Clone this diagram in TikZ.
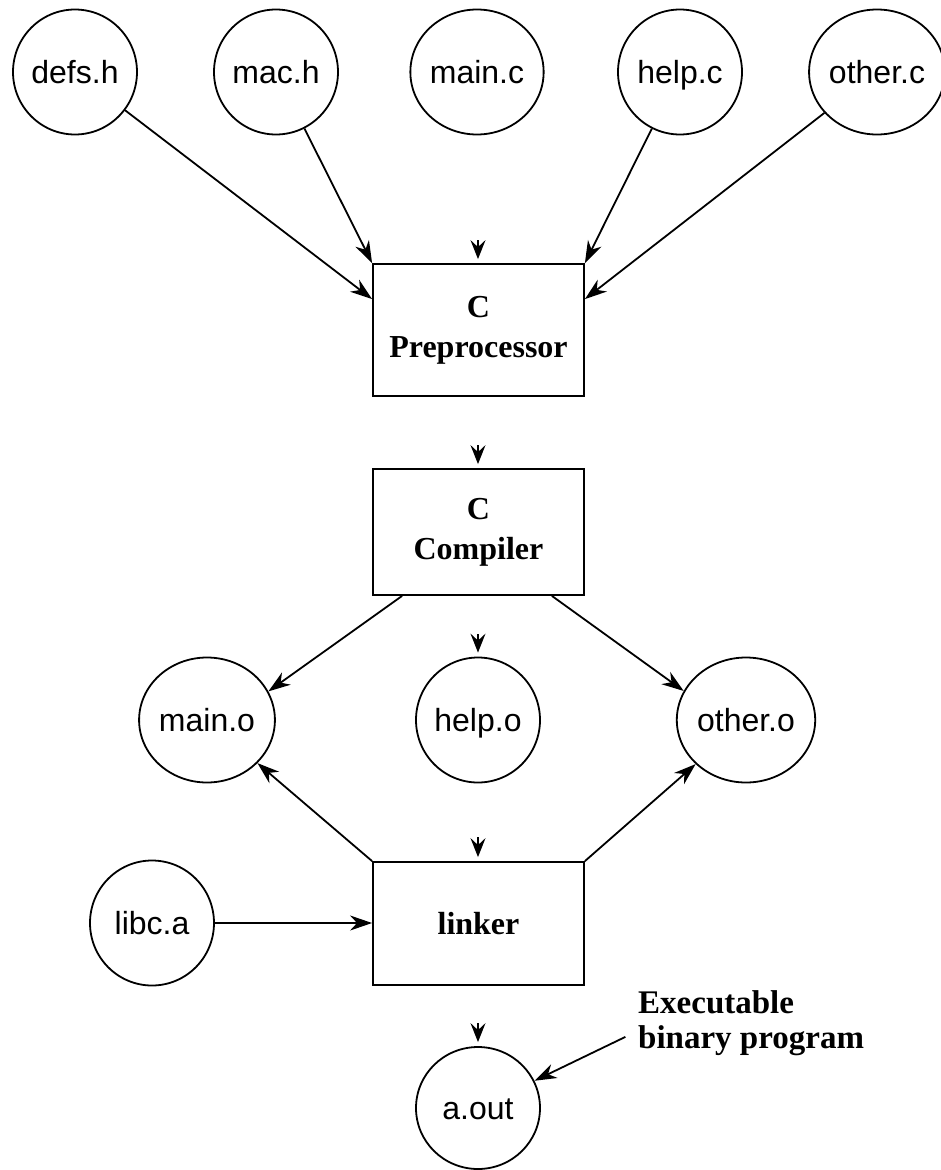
\documentclass[tikz,border=0pt]{standalone}
\usepackage{fontspec}
\setmainfont{Liberation Serif}
\setsansfont{Liberation Sans}
\usetikzlibrary{arrows.meta,shapes.geometric,positioning}
\tikzset{
        % Files (sources, objects, libraries)
        file/.style={ellipse, draw, line width=1.8pt, minimum width=124pt, minimum height=125pt, inner sep=0pt, text height=23pt, text depth=0pt, font=\sffamily\fontsize{32}{34}\selectfont},
        % Tools of the tool chain
        tool/.style={rectangle, draw, line width=1.8pt, minimum width=211pt, align=center, font=\bfseries\fontsize{32}{40}\selectfont},
        % Data flow
        flow/.style={line width=1.8pt, -{Stealth[length=22pt,width=15pt,inset=7pt]}},
        % Small input arrowheads
        stub/.style={line width=1.4pt, -{Stealth[length=19pt,width=15pt,inset=7pt]}, shorten >=4pt},
        % Annotation
        note/.style={align=left, inner sep=0pt, font=\bfseries\fontsize{33}{35}\selectfont}
}

\begin{document}
\begin{tikzpicture}[x=1pt, y=-1pt]
            \useasboundingbox (0,0) rectangle (940,1170);
            % source files
            \node[file] (defs) at (75,72) {defs.h};
            \node[file] (mac) at (276,72) {mac.h};
            \node[file] (mainc) at (477,72) {main.c};
            \node[file] (helpc) at (680,72) {help.c};
            \node[file] (otherc) at (877,72) {other.c};
            % tools
            \node[tool, minimum height=132pt] (pre) at (478.5,330) {C\\Preprocessor};
            \node[tool, minimum height=126pt] (comp) at (478.5,532) {C\\Compiler};
            \node[tool, minimum height=123pt] (link) at (478.5,923.5) {linker};
            % object files
            \node[file] (maino) at (207,720) {main.o};
            \node[file] (helpo) at (478,720) {help.o};
            \node[file] (othero) at (746,720) {other.o};
            \node[file] (libc) at (152,923) {libc.a};
            \node[file, minimum height=122pt] (aout) at (478,1108) {a.out};
            \node[note, anchor=north west] (exe) at (638,990) {Executable\\binary program};
            % pins of the small arrowheads
            \coordinate (pin1) at (478,240);
            \coordinate (pin2) at (478,445);
            \coordinate (pin3) at (478,634);
            \coordinate (pin4) at (478,837);
            \coordinate (pin5) at (478,1023);

            \draw[flow] (defs) -- ([yshift=-36pt]pre.north west);
            \draw[flow] (mac) -- (pre.north west);
            \draw[flow] (helpc) -- (pre.north east);
            \draw[flow] (otherc) -- ([yshift=-36pt]pre.north east);
            \draw[flow] ([xshift=30pt]comp.south west) -- (maino.25);
            \draw[flow] ([xshift=-33pt]comp.south east) -- (othero.155);
            \draw[flow] (link.north west) -- (maino);
            \draw[flow] (link.north east) -- (othero);
            \draw[flow] (libc) -- (libc -| link.west);
            \draw[flow, shorten <=14pt] ([yshift=-8pt]exe.west) -- (aout);

            \draw[stub] (pin1) -- (pin1 |- pre.north);
            \draw[stub] (pin2) -- (pin2 |- comp.north);
            \draw[stub] (pin3) -- (pin3 |- helpo.north);
            \draw[stub] (pin4) -- (pin4 |- link.north);
            \draw[stub] (pin5) -- (pin5 |- aout.north);
\end{tikzpicture}
\end{document}
